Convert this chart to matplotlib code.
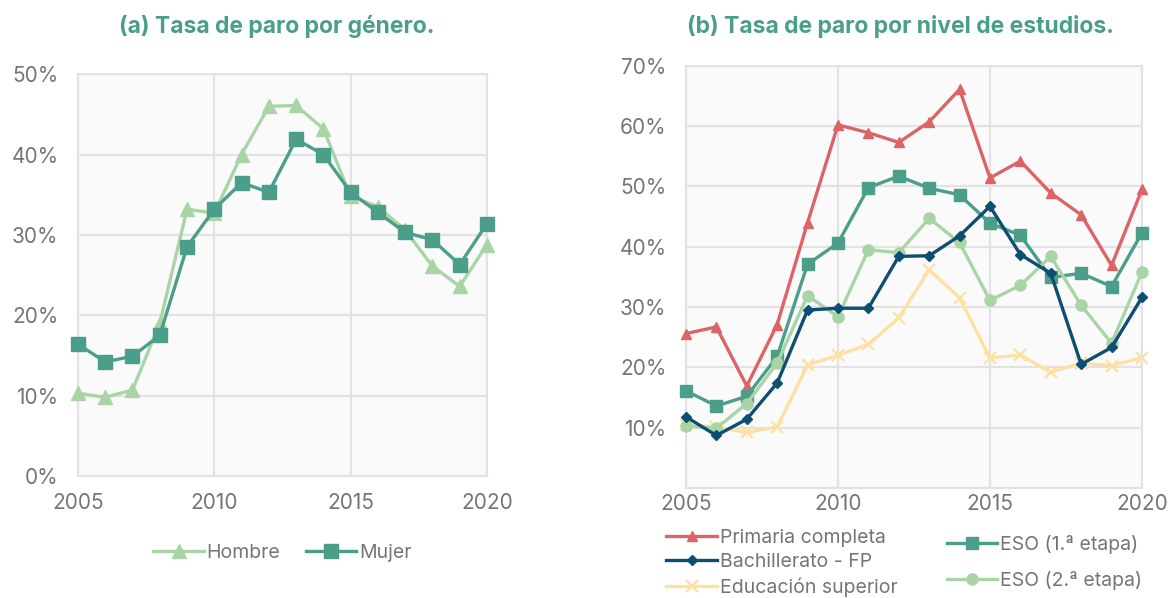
import numpy as np
import matplotlib
matplotlib.use("Agg")
import matplotlib.pyplot as plt
from matplotlib.ticker import PercentFormatter

plt.rcParams['font.family'] = ['Inter', 'DejaVu Sans']

# -----------------------------------------------------------------------------
# Data
# -----------------------------------------------------------------------------
years = list(range(2005, 2021))

hombre = [10.3, 9.8, 10.7, 19.0, 33.2, 32.7, 40.0, 46.0, 46.1, 43.2,
          34.8, 33.5, 30.6, 26.1, 23.6, 28.8]
mujer = [16.4, 14.2, 14.9, 17.5, 28.5, 33.2, 36.5, 35.3, 41.9, 40.0,
         35.3, 32.8, 30.3, 29.4, 26.3, 31.4]

primaria = [25.6, 26.7, 16.9, 27.1, 44.0, 60.2, 58.9, 57.3, 60.7, 66.1,
            51.4, 54.2, 48.9, 45.3, 36.9, 49.5]
eso1 = [16.1, 13.6, 15.2, 21.8, 37.1, 40.6, 49.8, 51.7, 49.7, 48.6,
        43.9, 41.9, 34.9, 35.6, 33.4, 42.3]
bach_fp = [11.8, 8.7, 11.4, 17.4, 29.5, 29.8, 29.8, 38.4, 38.5, 41.8,
           46.7, 38.7, 35.6, 20.5, 23.3, 31.6]
eso2 = [10.3, 9.9, 14.0, 20.7, 31.9, 28.4, 39.5, 39.0, 44.7, 40.7,
        31.1, 33.6, 38.4, 30.3, 24.0, 35.8]
superior = [10.5, 10.1, 9.2, 10.1, 20.4, 22.0, 23.8, 28.2, 36.2, 31.5,
            21.6, 22.0, 19.2, 20.7, 20.3, 21.6]

# -----------------------------------------------------------------------------
# Style
# -----------------------------------------------------------------------------
TEAL = "#4b9e8a"
LIGHT_GREEN = "#a9d5a6"
RED = "#dc6466"
NAVY = "#0e4e72"
YELLOW = "#fde1a2"
GRID = "#e2e2e2"
TEXT = "#757575"


def style_axes(ax, ymax, yticks):
    ax.set_facecolor("#fafafa")
    ax.set_xlim(2005, 2020)
    ax.set_ylim(0, ymax)
    ax.set_xticks([2005, 2010, 2015, 2020])
    ax.set_yticks(yticks)
    ax.yaxis.set_major_formatter(PercentFormatter(decimals=0))
    ax.grid(True, color=GRID, linewidth=1.5)
    ax.set_axisbelow(True)
    for s in ax.spines.values():
        s.set_color(GRID)
        s.set_linewidth(1.5)
    ax.tick_params(length=0, labelsize=15, colors=TEXT)
    ax.tick_params(axis="y", pad=14)


fig = plt.figure(figsize=(11.74, 5.98), dpi=100)

# (a) por genero
ax1 = fig.add_axes([0.0664, 0.204, 0.3484, 0.672])
ax1.plot(years, hombre, color=LIGHT_GREEN, lw=2.4, marker="^", ms=10,
         label="Hombre", clip_on=False, zorder=3)
ax1.plot(years, mujer, color=TEAL, lw=2.4, marker="s", ms=10,
         label="Mujer", clip_on=False, zorder=4)
style_axes(ax1, 50, [0, 10, 20, 30, 40, 50])
ax1.tick_params(axis="x", pad=12)
fig.text(0.236, 0.955, "(a) Tasa de paro por género.", ha="center", va="center",
         fontsize=16.5, fontweight="bold", color=TEAL)
ax1.legend(loc="upper center", bbox_to_anchor=(0.5, -0.125), ncol=2,
           frameon=False, fontsize=14, labelcolor=TEXT, handlelength=2.6,
           handletextpad=0.15, columnspacing=1.3)

# (b) por nivel de estudios
ax2 = fig.add_axes([0.5843, 0.184, 0.3884, 0.706])
l_pri, = ax2.plot(years, primaria, color=RED, lw=2.4, marker="^", ms=7,
                  label="Primaria completa", clip_on=False, zorder=3)
l_eso1, = ax2.plot(years, eso1, color=TEAL, lw=2.4, marker="s", ms=8,
                   label="ESO (1.ª etapa)", clip_on=False, zorder=3)
l_bach, = ax2.plot(years, bach_fp, color=NAVY, lw=2.4, marker="D", ms=5.5,
                   label="Bachillerato - FP", clip_on=False, zorder=4)
l_eso2, = ax2.plot(years, eso2, color=LIGHT_GREEN, lw=2.4, marker="o", ms=8,
                   label="ESO (2.ª etapa)", clip_on=False, zorder=3)
l_sup, = ax2.plot(years, superior, color=YELLOW, lw=2.4, marker="x", ms=8,
                  mew=1.6, label="Educación superior", clip_on=False, zorder=2)
style_axes(ax2, 70, [10, 20, 30, 40, 50, 60, 70])
ax2.tick_params(axis="x", pad=4)
fig.text(0.767, 0.955, "(b) Tasa de paro por nivel de estudios.", ha="center",
         va="center", fontsize=16.5, fontweight="bold", color=TEAL)

leg1 = ax2.legend(handles=[l_pri, l_bach, l_sup], loc="upper left",
                  bbox_to_anchor=(-0.06, -0.078), frameon=False, fontsize=14,
                  labelcolor=TEXT, handlelength=2.6, handletextpad=0.15,
                  labelspacing=0.32, borderaxespad=0)
ax2.add_artist(leg1)
ax2.legend(handles=[l_eso1, l_eso2], loc="upper left",
           bbox_to_anchor=(0.555, -0.093), frameon=False, fontsize=14,
           labelcolor=TEXT, handlelength=2.6, handletextpad=0.15,
           labelspacing=0.85, borderaxespad=0)

plt.savefig("out.png", dpi=100)
plt.close()
